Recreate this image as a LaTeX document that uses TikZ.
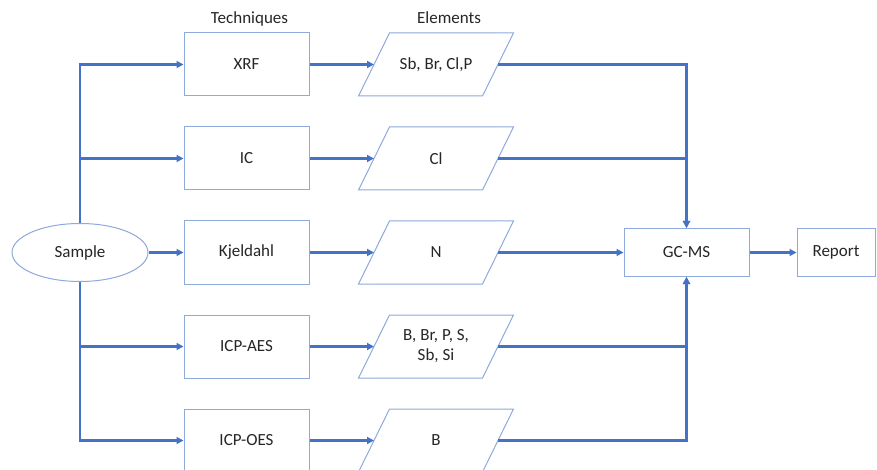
\documentclass[tikz,border=0pt]{standalone}
\usepackage{fontspec}
\setmainfont{Carlito}
\usepackage{xcolor}
\usepackage{tikz}
\usetikzlibrary{positioning,arrows.meta,calc,shapes.geometric}
\definecolor{flowblue}{HTML}{4472C4}
\definecolor{flowedge}{HTML}{8EA9DB}
\definecolor{flowtext}{HTML}{262626}

\begin{document}
\begin{tikzpicture}[
   x=1pt, y=1pt,
   node distance=30pt and 47pt,
   tech/.style={draw=flowedge, line width=1pt, fill=white, minimum width=125pt,
                minimum height=63pt, align=center, text=flowtext,
                font=\fontsize{17}{20}\selectfont},
   elem/.style={tech, draw=none, minimum width=123pt},
   slant/.style={draw=flowedge, line width=1pt, line join=miter},
   sample/.style={tech, ellipse, minimum width=136pt, minimum height=58pt, inner sep=0pt},
   head/.style={text=flowtext, font=\fontsize{17}{20}\selectfont},
   link/.style={flowblue, line width=2.4pt},
   >={Triangle[length=7pt,width=7pt]}]
  \useasboundingbox (0,0) rectangle (877,-470);
  \coordinate (elcol) at (436,0);
  \node[sample] (sample) at (80,-252.5) {Sample};
  \node[tech] (xrf) at (246.5,-64.5) {XRF};
  \node[tech, below=of xrf] (ic) {IC};
  \node[tech, below=of ic] (kjel) {Kjeldahl};
  \node[tech, below=of kjel] (icpaes) {ICP-AES};
  \node[tech, below=of icpaes] (icpoes) {ICP-OES};
  \node[elem] (el1) at (elcol |- xrf) {Sb, Br, Cl,P};
  \node[elem] (el2) at (elcol |- ic) {Cl};
  \node[elem] (el3) at (elcol |- kjel) {N};
  \node[elem] (el4) at (elcol |- icpaes) {B, Br, P, S,\\Sb, Si};
  \node[elem] (el5) at (elcol |- icpoes) {B};
  \node[tech, minimum height=48pt] (gcms) at (686.5,-252.5) {GC-MS};
  \node[tech, minimum width=78pt, minimum height=48pt, right=of gcms] (report) {Report};
  \node[head, anchor=base] (techhead) at (249.5,-24) {Techniques};
  \node[head, anchor=base] (elemhead) at (449,-24) {Elements};
  % Slanted outlines of the element boxes
  \foreach \el in {el1,el2,el3,el4,el5}
    \draw[slant] ($(\el.south west)+(-15.5,0.5)$) -- ($(\el.south east)+(-15.5,0.5)$)
      -- ($(\el.north east)+(15.5,-0.5)$) -- ($(\el.north west)+(15.5,-0.5)$) -- cycle;
  % Sample to techniques
  \draw[link, ->] (sample.north) |- (xrf);
  \draw[link, ->] (sample.north) |- (ic);
  \draw[link, ->] (sample) -- (kjel);
  \draw[link, ->] (sample.south) |- (icpaes);
  \draw[link, ->] (sample.south) |- (icpoes);
  \draw[link, ->] (xrf) -- (el1);
  \draw[link, ->] (ic) -- (el2);
  \draw[link, ->] (kjel) -- (el3);
  \draw[link, ->] (icpaes) -- (el4);
  \draw[link, ->] (icpoes) -- (el5);
  % Elements into GC-MS
  \draw[link, ->] (el1) -| (gcms.north);
  \draw[link, ->] (el2) -| (gcms.north);
  \draw[link, ->] (el3) -- (gcms);
  \draw[link, ->] (el4) -| (gcms.south);
  \draw[link, ->] (el5) -| (gcms.south);
  \draw[link, ->] (gcms) -- (report);
\end{tikzpicture}
\end{document}
